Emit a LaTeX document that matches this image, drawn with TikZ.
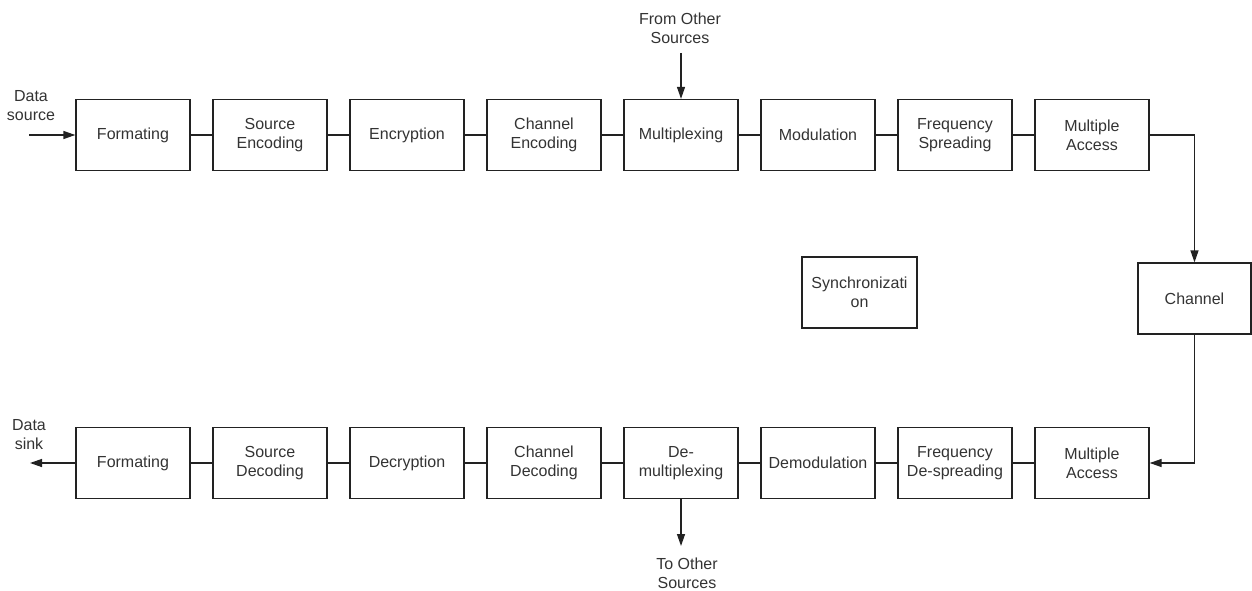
\documentclass[tikz,border=0pt]{standalone}
\usepackage{fontspec}
\setmainfont{Liberation Sans}
\usetikzlibrary{arrows.meta}
\definecolor{txt}{HTML}{333333}
\definecolor{ln}{HTML}{222222}
\tikzset{
  blk/.style={draw=ln, line width=1.3pt, minimum width=114pt, minimum height=71pt, inner sep=0pt, align=center, text=txt, font=\fontsize{16}{19}\selectfont},
  lbl/.style={align=center, text=txt, inner sep=0pt, font=\fontsize{16}{19}\selectfont},
  link/.style={draw=ln, line width=1.3pt},
  arr/.style={link, -{Triangle[length=12pt,width=8pt]}}
}
\begin{document}
\begin{tikzpicture}[x=1pt,y=-1pt]
\useasboundingbox (0,0) rectangle (1252,591);
% top row
\node[blk] (t1) at (133,135) {Formating};
\node[blk] (t2) at (270,135) {Source\\Encoding};
\node[blk] (t3) at (407,135) {Encryption};
\node[blk] (t4) at (544,135) {Channel\\Encoding};
\node[blk] (t5) at (681,135) {Multiplexing};
\node[blk] (t6) at (818,135) {Modulation};
\node[blk] (t7) at (955,135) {Frequency\\Spreading};
\node[blk] (t8) at (1092,135) {Multiple\\Access};
% bottom row
\node[blk] (b1) at (133,463) {Formating};
\node[blk] (b2) at (270,463) {Source\\Decoding};
\node[blk] (b3) at (407,463) {Decryption};
\node[blk] (b4) at (544,463) {Channel\\Decoding};
\node[blk] (b5) at (681,463) {De-\\multiplexing};
\node[blk] (b6) at (818,463) {Demodulation};
\node[blk] (b7) at (955,463) {Frequency\\De-spreading};
\node[blk] (b8) at (1092,463) {Multiple\\Access};
% channel and sync
\node[blk, minimum width=113pt] (ch) at (1194.5,298.5) {Channel};
\node[blk, minimum width=115pt] (sy) at (859.5,292.5) {Synchronizati\\on};
% labels
\node[lbl] (dsrc) at (31,106) {Data\\source};
\node[lbl] (dsnk) at (29,434.5) {Data\\sink};
\node[lbl] (fos) at (680,28) {From Other\\Sources};
\node[lbl] (tos) at (687,573) {To Other\\Sources};
\coordinate (srcend) at (29,135);
\coordinate (snkend) at (30,463);
\coordinate (fosend) at (681,53);
\coordinate (tosend) at (681,546);
% connectors
\draw[arr] (srcend) -- (t1.west);
\draw[link] (t1) -- (t2) (t2) -- (t3) (t3) -- (t4) (t4) -- (t5) (t5) -- (t6) (t6) -- (t7) (t7) -- (t8);
\draw[link] (b1) -- (b2) (b2) -- (b3) (b3) -- (b4) (b4) -- (b5) (b5) -- (b6) (b6) -- (b7) (b7) -- (b8);
\draw[arr] (fosend) -- (t5.north);
\draw[arr] (b5.south) -- (tosend);
\draw[arr] (b1.west) -- (snkend);
\draw[arr] (t8.east) -| (ch.north);
\draw[arr] (ch.south) |- (b8.east);
\end{tikzpicture}
\end{document}
